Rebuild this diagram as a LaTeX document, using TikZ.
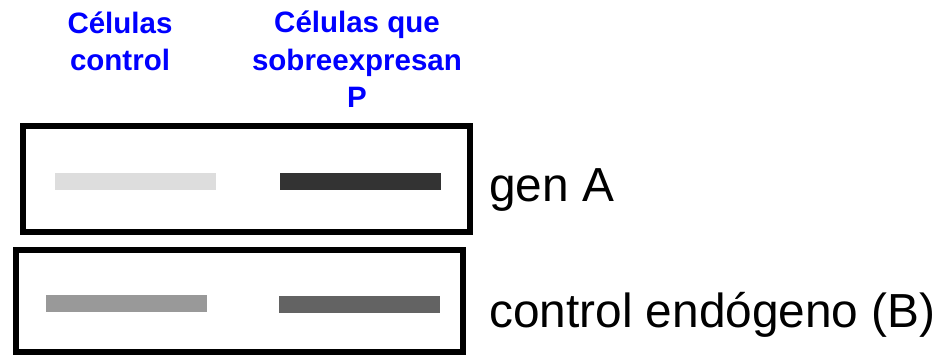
\documentclass[tikz,border=0pt]{standalone}
\usepackage{fontspec}
\setmainfont{Liberation Sans}
\definecolor{hdrblue}{RGB}{0,0,255}
\definecolor{bandA}{HTML}{DDDDDD}
\definecolor{bandB}{HTML}{333333}
\definecolor{bandC}{HTML}{999999}
\definecolor{bandD}{HTML}{636363}
\begin{document}
\begin{tikzpicture}[x=1pt,y=-1pt,
  frame/.style={draw=black, line width=6pt},
  band/.style={draw=none, minimum width=161pt, minimum height=17pt, inner sep=0pt},
  hdr/.style={text=hdrblue, font=\fontsize{29.5}{37.5}\selectfont\bfseries, align=center, inner sep=0pt, anchor=base},
  lbl/.style={font=\fontsize{47.8}{56}\selectfont, inner sep=0pt, anchor=base west}]
\useasboundingbox (0,0) rectangle (940,355);
\fill[white] (0,0) rectangle (940,355);
% headers (anchor = baseline of last line)
\node[hdr] (h1) at (120,71) {Células\\control};
\node[hdr] (h2) at (357,108) {Células que\\sobreexpresan\\P};
% frames
\draw[frame] (23,126) rectangle (470,232);
\draw[frame] (16.3,250) rectangle (462.7,352);
% bands
\node[band, fill=bandA] (a1) at (135.5,181.5) {};
\node[band, fill=bandB] (a2) at (360.5,181.5) {};
\node[band, fill=bandC] (b1) at (126.5,303.5) {};
\node[band, fill=bandD] (b2) at (359.5,304.5) {};
% labels
\node[lbl] (la) at (489,202) {gen A};
\node[lbl] (lb) at (489,327) {control endógeno (B)};
\end{tikzpicture}
\end{document}
